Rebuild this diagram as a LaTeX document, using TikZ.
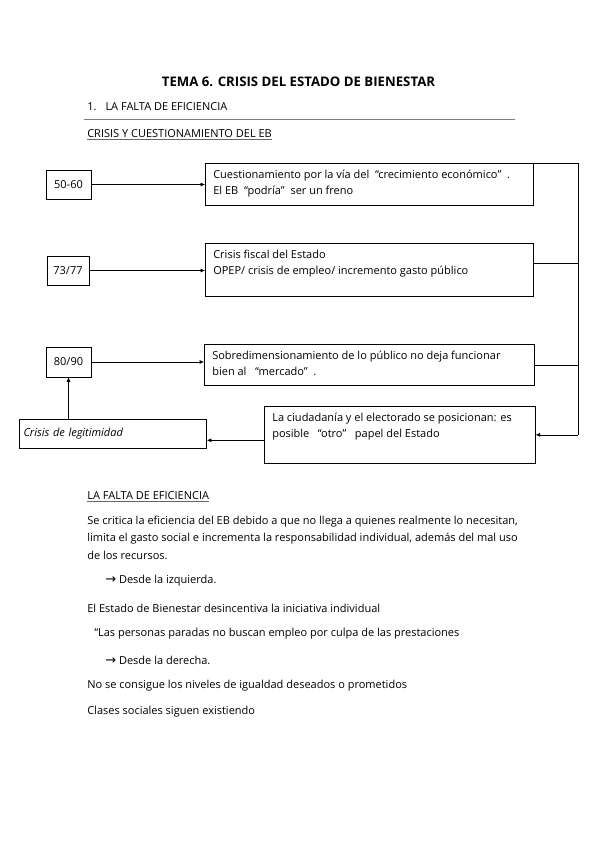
\documentclass[tikz,border=0pt]{standalone}
\usepackage{fontspec}
\setmainfont{Open Sans}
\newfontfamily\symfont{DejaVu Sans}
\usepackage{tikz}
\usetikzlibrary{positioning,calc}
\usetikzlibrary{arrows.meta}
\newcommand{\boxtxt}[3]{\parbox[c][#2][t]{#1}{\raggedright\strut#3}}
\newcommand{\toarrow}{{\symfont\fontsize{13}{16}\selectfont →}}

\begin{document}
\begin{tikzpicture}[x=1pt,y=-1pt,line width=0.6pt,
  font=\fontsize{11}{16}\selectfont,
  >={Latex[length=4.5pt,width=4pt]},
  datebox/.style={draw,minimum width=45pt,minimum height=29pt,inner sep=0pt},
  ideabox/.style={draw,anchor=north west,inner xsep=8pt,inner ysep=4pt},
  txtline/.style={anchor=west,inner sep=0pt}]
  % Parameters
  \def\xd{68.5}      % centre of the date boxes
  \def\xb{205}       % left edge of the long boxes
  \def\xr{578}       % right rail
  \def\xt{87}        % left margin of the text

  \useasboundingbox (0,0) rectangle (599,848);

  % Headings
  \node[font=\bfseries\fontsize{13.2}{15}\selectfont] (title) at (298.5,82) {TEMA 6. CRISIS DEL ESTADO DE BIENESTAR};
  \node[txtline] (sec) at (\xt,107) {1.\hspace{9pt}LA FALTA DE EFICIENCIA};
  \draw[gray,line width=0.8pt] (84,119) -- (515,119);
  \node[txtline] (sub1) at (\xt,134) {CRISIS Y CUESTIONAMIENTO DEL EB};
  \draw[gray!80!black,line width=0.8pt] ([yshift=-1.5pt]sub1.base west) -- ([yshift=-1.5pt]sub1.base east);

  % Date boxes
  \node[datebox] (d1) at (\xd,184.5) {50-60};
  \node[datebox,minimum width=42pt] (d2) at (68,270.5) {73/77};
  \node[datebox,minimum height=30pt] (d3) at (\xd,362) {80/90};

  % Long boxes
  \node[ideabox] (b1) at (\xb,163) {\boxtxt{312pt}{34pt}{Cuestionamiento por la vía del \ “crecimiento económico” \ .\\El EB \ “podría” \ ser un freno}};
  \node[ideabox] (b2) at (\xb,243) {\boxtxt{312pt}{45pt}{Crisis fiscal del Estado\\OPEP/ crisis de empleo/ incremento gasto público}};
  \node[ideabox] (b3) at (204,344) {\boxtxt{314pt}{33pt}{Sobredimensionamiento de lo público no deja funcionar\\bien al \ \ “mercado” \ .}};
  \node[ideabox] (b4) at (264,406) {\boxtxt{255pt}{49pt}{La ciudadanía y el electorado se posicionan: es\\posible \ \ “otro” \ \ papel del Estado}};
  \node[draw,text width=179pt,inner xsep=4pt,minimum height=28.5pt,align=left,font=\itshape\fontsize{11}{16}\selectfont] (cr) at (113,434) {Crisis de legitimidad};

  % Connectors
  \draw[->] (d1) -- (d1 -| b1.west);
  \draw[->] (d2) -- (d2 -| b2.west);
  \draw[->] (d3) -- (d3 -| b3.west);
  \coordinate (rail) at (\xr,163);
  \draw (b1.north east) -- (rail) -- (rail |- b4.east);
  \draw[->] (rail |- b4.east) -- (b4.east);
  \draw ([yshift=6.5pt]b2.east) -- ([yshift=6.5pt]b2.east -| rail);
  \draw (b3.east) -- (b3.east -| rail);
  \draw[->] ([yshift=-5.5pt]b4.west) -- ([yshift=-5.5pt]b4.west -| cr.east);
  \draw[->] (cr.north -| d3) -- (d3.south);

  % Second part
  \node[txtline] (sub2) at (\xt,496) {LA FALTA DE EFICIENCIA};
  \draw[gray!80!black,line width=0.8pt] ([yshift=-1.5pt]sub2.base west) -- ([yshift=-1.5pt]sub2.base east);
  \node[anchor=north west,inner sep=0pt,align=left,font=\fontsize{11}{17.2}\selectfont] (par) at (\xt,516) {Se critica la eficiencia del EB debido a que no llega a quienes realmente lo necesitan,\\limita el gasto social e incrementa la responsabilidad individual, además del mal uso\\de los recursos.};
  \node[txtline] (izq) at (105,581) {\toarrow\ Desde la izquierda.};
  \node[txtline] (l1) at (\xt,608) {El Estado de Bienestar desincentiva la iniciativa individual};
  \node[txtline] (l2) at (94,634) {“Las personas paradas no buscan empleo por culpa de las prestaciones};
  \node[txtline] (der) at (105,660) {\toarrow\ Desde la derecha.};
  \node[txtline] (l3) at (\xt,686) {No se consigue los niveles de igualdad deseados o prometidos};
  \node[txtline] (l4) at (\xt,712) {Clases sociales siguen existiendo};

\end{tikzpicture}
\end{document}
